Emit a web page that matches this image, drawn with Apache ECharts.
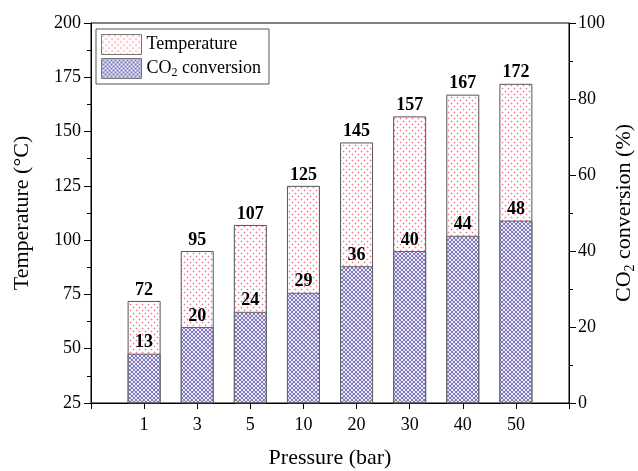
<!DOCTYPE html>
<html>
<head>
<meta charset="utf-8">
<script src="https://cdn.jsdelivr.net/npm/echarts@6/dist/echarts.min.js"></script>
<style>
  html, body { margin: 0; padding: 0; background: #fff; }
  #chart { width: 638px; height: 471px; }
</style>
</head>
<body>
<div id="chart"></div>
<script>
// Pressure levels (bar)
const pressures = ['1', '3', '5', '10', '20', '30', '40', '50'];
// Reaction temperature (°C)
const temperature = [72, 95, 107, 125, 145, 157, 167, 172];
// CO2 conversion (%)
const conversion = [13, 20, 24, 29, 36, 40, 44, 48];
// Axis ranges
const tempTicks = { min: 25, max: 200, interval: 25 };
const convTicks = { min: 0, max: 100, interval: 20 };

const FONT = '"Liberation Serif", "DejaVu Serif", serif';

// Pink dotted fill: soft dots on a staggered grid
function dotPattern() {
  const c = document.createElement('canvas');
  c.width = 6; c.height = 6;
  const g = c.getContext('2d');
  g.fillStyle = '#ffffff';
  g.fillRect(0, 0, 6, 6);
  const dot = (x, y) => {
    g.fillStyle = '#fcd6dc';
    g.fillRect(x - 1, y, 3, 1);
    g.fillRect(x, y - 1, 1, 3);
    g.fillStyle = '#f37a8c';
    g.fillRect(x, y, 1, 1);
  };
  dot(1, 1);
  dot(4, 4);
  return c;
}
// Blue cross-hatch fill, partly see-through
function hatchPattern() {
  const c = document.createElement('canvas');
  c.width = 4; c.height = 4;
  const g = c.getContext('2d');
  g.fillStyle = 'rgba(220,220,242,0.45)';
  g.fillRect(0, 0, 4, 4);
  g.fillStyle = '#7a7ac2';
  [[0,0],[3,0],[1,1],[2,1],[1,2],[2,2],[0,3],[3,3]].forEach(p => g.fillRect(p[0], p[1], 1, 1));
  return c;
}

// Pad the category axis with empty slots at both ends
const cats = [''].concat(pressures, ['']);
const pad = arr => [null].concat(arr, [null]);

const chart = echarts.init(document.getElementById('chart'));

const labelStyle = {
  show: true,
  position: 'top',
  distance: 2,
  color: '#000',
  fontFamily: FONT,
  fontWeight: 'bold',
  fontSize: 18
};

chart.setOption({
  animation: false,
  backgroundColor: '#fff',
  grid: {
    left: 91, right: 69, top: 23, bottom: 68,
    containLabel: false,
    outerBoundsMode: 'none',
    show: true, borderColor: '#000', borderWidth: 1
  },
  legend: {
    orient: 'vertical',
    left: 96, top: 29,
    padding: [5, 8, 5, 5],
    itemGap: 3,
    itemWidth: 40, itemHeight: 20,
    borderColor: '#555', borderWidth: 1,
    backgroundColor: '#fff',
    icon: 'rect',
    itemStyle: { borderColor: '#777', borderWidth: 1 },
    data: ['Temperature', 'CO2 conversion'],
    formatter: name => name === 'CO2 conversion' ? 'CO{sub|2} conversion' : name,
    textStyle: {
      fontFamily: FONT, fontSize: 18, color: '#000',
      rich: { sub: { fontFamily: FONT, fontSize: 12, verticalAlign: 'bottom', padding: [9, 0, 0, 0] } }
    }
  },
  xAxis: {
    type: 'category',
    data: cats,
    boundaryGap: false,
    name: 'Pressure (bar)',
    nameLocation: 'middle',
    nameGap: 44,
    nameTextStyle: { fontFamily: FONT, fontSize: 22, color: '#000' },
    axisLine: { lineStyle: { color: '#000', width: 1 } },
    axisTick: { show: true, inside: false, length: 6, lineStyle: { color: '#000' } },
    axisLabel: { color: '#000', fontFamily: FONT, fontSize: 18, margin: 13, interval: 0 },
    splitLine: { show: false }
  },
  yAxis: [
    {
      type: 'value',
      position: 'left',
      min: tempTicks.min, max: tempTicks.max, interval: tempTicks.interval,
      name: 'Temperature (°C)',
      nameLocation: 'middle',
      nameRotate: 90,
      nameGap: 58,
      nameMoveOverlap: false,
      nameTextStyle: { fontFamily: FONT, fontSize: 22, color: '#000' },
      axisLine: { show: true, lineStyle: { color: '#000', width: 1 } },
      axisTick: { show: true, inside: false, length: 7, lineStyle: { color: '#000' } },
      minorTick: { show: true, splitNumber: 2, length: 4, lineStyle: { color: '#000' } },
      axisLabel: { color: '#000', fontFamily: FONT, fontSize: 18, margin: 10 },
      splitLine: { show: false }
    },
    {
      type: 'value',
      position: 'right',
      min: convTicks.min, max: convTicks.max, interval: convTicks.interval,
      name: 'CO{sub|2} conversion (%)',
      nameLocation: 'middle',
      nameRotate: 90,
      nameGap: 43,
      nameMoveOverlap: false,
      nameTextStyle: {
        fontFamily: FONT, fontSize: 22, color: '#000',
        rich: { sub: { fontFamily: FONT, fontSize: 14, verticalAlign: 'bottom', padding: [11, 0, 0, 0] } }
      },
      axisLine: { show: true, lineStyle: { color: '#000', width: 1 } },
      axisTick: { show: true, inside: false, length: 7, lineStyle: { color: '#000' } },
      minorTick: { show: true, splitNumber: 2, length: 4, lineStyle: { color: '#000' } },
      axisLabel: { color: '#000', fontFamily: FONT, fontSize: 18, margin: 9 },
      splitLine: { show: false }
    }
  ],
  series: [
    {
      name: 'Temperature',
      type: 'bar',
      yAxisIndex: 0,
      data: pad(temperature),
      barWidth: 33,
      barGap: '-100%',
      clip: true,
      itemStyle: {
        color: { image: dotPattern(), repeat: 'repeat' },
        borderColor: '#555',
        borderWidth: 1
      },
      label: labelStyle,
      z: 2
    },
    {
      name: 'CO2 conversion',
      type: 'bar',
      yAxisIndex: 1,
      data: pad(conversion),
      barWidth: 33,
      barGap: '-100%',
      clip: true,
      itemStyle: {
        color: { image: hatchPattern(), repeat: 'repeat' },
        borderColor: '#666',
        borderWidth: 1
      },
      label: labelStyle,
      z: 3
    }
  ]
});
</script>
</body>
</html>
